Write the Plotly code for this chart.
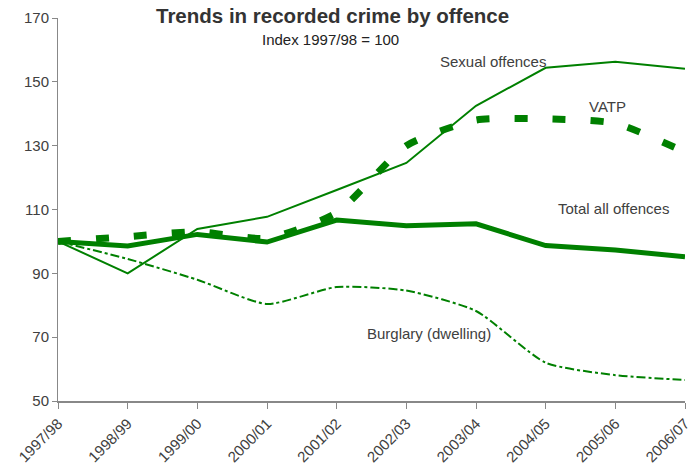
import plotly.graph_objects as go

years = ["1997/98", "1998/99", "1999/00", "2000/01", "2001/02",
         "2002/03", "2003/04", "2004/05", "2005/06", "2006/07"]

sexual_offences = [100, 90, 103.9, 107.7, 116.1, 124.6, 142.5, 154.4, 156.3, 154.1]
vatp = [100, 101.5, 103, 101, 109, 130, 138, 138.4, 137, 128]
total_all = [100, 98.6, 102.2, 99.8, 106.7, 104.9, 105.5, 98.7, 97.3, 95.2]
burglary = [100, 94.5, 88, 80.4, 85.7, 84.6, 78.2, 62, 58.1, 56.6]

GREEN = "#008000"
TEXT = "#404040"
FONT = "Liberation Sans, Arial, sans-serif"

W, H = 693, 466
ML, MR, MT, MB = 58, 1, 18, 65
PW, PH = W - ML - MR, H - MT - MB


def px_to_paper(px, py):
    """Convert a pixel position on the page to paper coordinates."""
    return (px - ML) / PW, 1 - (py - MT) / PH


fig = go.Figure()
fig.add_trace(go.Scatter(x=years, y=burglary, mode="lines", name="Burglary (dwelling)",
                         line=dict(color=GREEN, width=2, dash="dashdot", shape="spline", smoothing=0.6)))
fig.add_trace(go.Scatter(x=years, y=sexual_offences, mode="lines", name="Sexual offences",
                         line=dict(color=GREEN, width=2)))
fig.add_trace(go.Scatter(x=years, y=vatp, mode="lines", name="VATP",
                         line=dict(color=GREEN, width=7, dash="13px,25px", shape="spline", smoothing=0.6)))
fig.add_trace(go.Scatter(x=years, y=total_all, mode="lines", name="Total all offences",
                         line=dict(color=GREEN, width=5)))

labels = [
    ("Sexual offences", 498, 61),
    ("VATP", 614, 107),
    ("Total all offences", 620, 208),
    ("Burglary (dwelling)", 433, 333),
]
for text, px, py in labels:
    ax, ay = px_to_paper(px, py)
    fig.add_annotation(text=text, x=ax, y=ay, xref="paper", yref="paper",
                       showarrow=False, font=dict(size=15, color=TEXT, family=FONT),
                       xanchor="center", yanchor="middle")

tx, ty = px_to_paper(336, 16)
fig.add_annotation(text="<b>Trends in recorded crime by offence</b>", x=tx, y=ty,
                   xref="paper", yref="paper", showarrow=False, yanchor="middle",
                   font=dict(size=20.5, color="#333333", family=FONT))
sx, sy = px_to_paper(334, 40)
fig.add_annotation(text="Index 1997/98 = 100", x=sx, y=sy,
                   xref="paper", yref="paper", showarrow=False, yanchor="middle",
                   font=dict(size=15, color="#222222", family=FONT))

fig.update_layout(
    width=W, height=H,
    margin=dict(l=ML, r=MR, t=MT, b=MB),
    paper_bgcolor="white", plot_bgcolor="white",
    showlegend=False,
    font=dict(family=FONT, size=15, color=TEXT),
)
fig.update_xaxes(type="category", range=[0, 9], showgrid=False, showline=True,
                 linecolor="#888888", linewidth=2, ticks="outside", ticklen=6,
                 tickcolor="#888888", tickangle=-45, tickfont=dict(size=15, color=TEXT),
                 tickson="labels")
fig.update_yaxes(range=[50, 170], tick0=50, dtick=20, showgrid=False, zeroline=False,
                 showline=True, linecolor="#888888", linewidth=1, ticks="outside",
                 ticklen=5, tickcolor="#888888", tickfont=dict(size=15, color=TEXT))

fig.write_html("out.html")
